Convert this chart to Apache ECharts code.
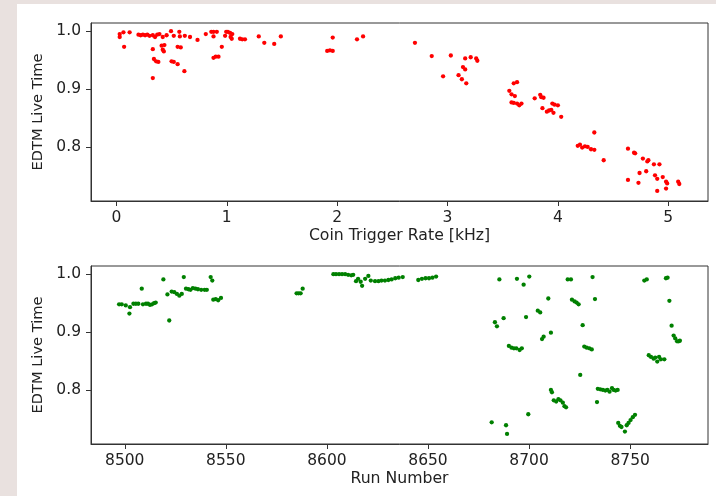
<!DOCTYPE html>
<html>
<head>
<meta charset="utf-8">
<script src="https://cdn.jsdelivr.net/npm/echarts@6/dist/echarts.min.js"></script>
<style>
html,body{margin:0;padding:0;background:#e9e1df;}
#paper{position:absolute;left:17px;top:4px;width:699px;height:492px;background:#ffffff;}
#chart{position:absolute;left:0;top:0;width:716px;height:496px;}
</style>
</head>
<body>
<div id="paper"></div>
<div id="chart"></div>
<script>
// Top panel: EDTM live time vs coincidence trigger rate [kHz]
const rateKHz = [0.03,0.03,0.064,0.07,0.12,0.20,0.22,0.24,0.26,0.28,0.30,0.33,0.35,0.37,0.39,0.33,0.33,0.34,0.36,0.38,
0.41,0.42,0.43,0.435,0.42,0.455,0.495,0.52,0.50,0.52,0.555,0.57,0.575,0.555,0.583,0.616,0.62,0.667,0.735,0.81,
0.86,0.88,0.91,0.88,0.88,0.90,0.925,0.955,0.985,0.995,1.01,1.03,1.05,1.035,1.045,1.12,1.14,1.165,1.29,1.34,
1.43,1.49,1.91,1.935,1.96,1.96,2.18,2.235,2.705,2.857,2.96,3.03,3.10,3.13,3.17,3.14,3.16,3.16,3.21,3.26,
3.27,3.56,3.58,3.61,3.60,3.63,3.58,3.60,3.63,3.65,3.67,3.79,3.84,3.85,3.87,3.86,3.90,3.92,3.94,3.96,
3.95,3.97,4.0,4.03,4.33,4.18,4.20,4.22,4.245,4.27,4.30,4.33,4.415,4.635,4.69,4.70,4.77,4.81,4.82,4.87,
4.92,4.74,4.80,4.88,4.90,4.95,4.98,4.99,4.635,4.73,4.90,4.98,5.09,5.10];
const liveTimeRate = [0.995,0.990,0.998,0.973,0.998,0.994,0.993,0.994,0.993,0.994,0.992,0.993,0.990,0.994,0.995,0.969,0.919,0.952,0.948,0.947,
0.975,0.968,0.965,0.976,0.990,0.993,1.0,0.992,0.948,0.947,0.943,0.999,0.991,0.973,0.972,0.931,0.992,0.990,0.985,0.995,
0.999,0.999,0.999,0.991,0.954,0.956,0.956,0.973,0.992,0.999,0.999,0.997,0.995,0.990,0.987,0.987,0.986,0.986,0.991,0.980,
0.978,0.991,0.966,0.967,0.966,0.989,0.986,0.991,0.980,0.957,0.922,0.958,0.924,0.917,0.910,0.938,0.934,0.953,0.955,0.953,
0.949,0.897,0.891,0.888,0.910,0.912,0.877,0.876,0.875,0.872,0.875,0.884,0.890,0.886,0.885,0.867,0.861,0.863,0.864,0.859,
0.875,0.873,0.872,0.852,0.825,0.802,0.804,0.799,0.801,0.800,0.796,0.795,0.777,0.797,0.790,0.789,0.780,0.775,0.777,0.770,
0.770,0.755,0.758,0.751,0.745,0.748,0.740,0.737,0.743,0.738,0.724,0.728,0.740,0.736];

// Bottom panel: EDTM live time vs run number
const runNumber = [8497.2,8498.5,8500.5,8502.3,8502.6,8504.3,8505.5,8506.7,8508.4,8509,8510.5,8511.5,8512.5,8513.5,8514.5,8515.3,
8519.1,8521.1,8522,8523.2,8524.5,8525.8,8527,8528.2,8529.2,8530.3,8531.5,8532.5,8533.7,8535,8536.2,8537.8,8539.5,8540.6,
8542.5,8543.3,8543.8,8545,8546.2,8547.6,8585,8586,8587,8588,8603.2,8604.5,8606,8607.5,8609,8610.5,8612,8613,
8614.4,8615.4,8616.7,8617.4,8618.9,8620.5,8621.7,8623.8,8625.5,8627,8628.7,8630.4,8632,8633.8,8635.5,8637.5,
8645.2,8647,8648.8,8650.5,8652.2,8654,8685.3,8694,8697.3,8700.1,8719.1,8720.7,8731.4,8757,8758.2,8767.7,8768.5,
8709.5,8721.2,8722.5,8723.5,8724.5,8732.6,8769.4,8704.3,8705.5,8698.5,8687.4,8683.1,8684.1,8726.5,8770.5,
8710.8,8706.4,8707.2,8771.5,8772.3,8773.2,8774,8774.6,8690,8691.3,8692.5,8693.7,8695.3,8696.4,
8727.3,8728.5,8729.8,8731,8759.2,8760.3,8761.6,8762.4,8763.4,8764.3,8765.2,8766.9,8725.3,8710.8,8711.3,
8712.2,8713.4,8714.5,8715.5,8716.7,8717.5,8718.3,8733.6,8734,8735.2,8736.5,8737.7,8738.7,8739.8,8741,8741.8,8742.8,8743.8,
8699.6,8681.5,8688.6,8689.1,8744.1,8744.9,8745.7,8747.4,8748.3,8749.2,8750.2,8751.3,8752.4];
const liveTimeRun = [0.948,0.948,0.946,0.932,0.943,0.949,0.949,0.949,0.975,0.948,0.949,0.949,0.947,0.948,0.950,0.951,
0.991,0.965,0.920,0.970,0.969,0.966,0.963,0.966,0.995,0.975,0.974,0.973,0.976,0.975,0.974,0.973,0.973,0.973,
0.995,0.989,0.956,0.957,0.955,0.959,0.967,0.967,0.967,0.975,1.0,1.0,1.0,1.0,1.0,0.999,0.998,0.999,
0.988,0.992,0.987,0.980,0.992,0.997,0.989,0.988,0.988,0.989,0.989,0.990,0.991,0.993,0.994,0.995,
0.990,0.992,0.993,0.993,0.994,0.996,0.991,0.992,0.982,0.996,0.991,0.991,0.995,0.989,0.991,0.993,0.994,
0.958,0.956,0.953,0.951,0.948,0.957,0.954,0.937,0.934,0.926,0.924,0.917,0.910,0.912,0.911,
0.899,0.888,0.892,0.894,0.889,0.884,0.884,0.885,0.876,0.873,0.872,0.872,0.869,0.872,
0.875,0.873,0.872,0.870,0.860,0.857,0.854,0.856,0.849,0.857,0.853,0.853,0.826,0.800,0.796,
0.782,0.780,0.784,0.782,0.778,0.772,0.770,0.779,0.802,0.801,0.800,0.799,0.800,0.797,0.803,0.800,0.799,0.800,
0.758,0.744,0.739,0.724,0.743,0.738,0.736,0.728,0.739,0.743,0.748,0.753,0.757];

const rateTicks = [0, 1, 2, 3, 4, 5];
const runTicks = [8500, 8550, 8600, 8650, 8700, 8750];
const liveTicks = [0.8, 0.9, 1.0];

const xTitleTop = 'Coin Trigger Rate [kHz]';
const xTitleBottom = 'Run Number';
const yTitle = 'EDTM Live Time';

const FONT = 'DejaVu Sans';
const TXT = '#222222';
const LINE = '#333333';

function zip(a, b) { return a.map((v, i) => [v, b[i]]); }

function xAxisCfg(gridIndex, min, max, ticks, title, fmt) {
  return {
    type: 'value', gridIndex, min, max, position: 'bottom',
    name: title, nameLocation: 'middle', nameGap: 27,
    nameTextStyle: { fontFamily: FONT, fontSize: 15.7, color: TXT },
    axisLine: { show: true, onZero: false, lineStyle: { color: LINE, width: 1 } },
    axisTick: { show: true, inside: false, length: 5, customValues: ticks, lineStyle: { color: LINE, width: 1 } },
    axisLabel: { show: true, margin: 9, customValues: ticks, fontFamily: FONT, fontSize: 15.5, color: TXT, formatter: fmt },
    splitLine: { show: false }
  };
}
function yAxisCfg(gridIndex) {
  return {
    type: 'value', gridIndex, min: 0.7066, max: 1.0142, position: 'left',
    name: yTitle, nameLocation: 'middle', nameGap: 44,
    nameTextStyle: { fontFamily: FONT, fontSize: 14.6, color: TXT },
    axisLine: { show: true, onZero: false, lineStyle: { color: LINE, width: 1 } },
    axisTick: { show: true, inside: false, length: 5, customValues: liveTicks, lineStyle: { color: LINE, width: 1 } },
    axisLabel: { show: true, margin: 10, customValues: liveTicks, fontFamily: FONT, fontSize: 15.5, color: TXT,
      formatter: v => Number(v).toFixed(1) },
    splitLine: { show: false }
  };
}

const chart = echarts.init(document.getElementById('chart'), null, { renderer: 'canvas' });
chart.setOption({
  backgroundColor: 'transparent',
  animation: false,
  grid: [
    { left: 91, top: 23, width: 617, height: 178, show: true, borderColor: LINE, borderWidth: 1, backgroundColor: 'transparent' },
    { left: 91, top: 266, width: 617, height: 178, show: true, borderColor: LINE, borderWidth: 1, backgroundColor: 'transparent' }
  ],
  xAxis: [
    xAxisCfg(0, -0.23, 5.36, rateTicks, xTitleTop, v => String(Math.round(v))),
    xAxisCfg(1, 8483.3, 8788.5, runTicks, xTitleBottom, v => String(Math.round(v)))
  ],
  yAxis: [yAxisCfg(0), yAxisCfg(1)],
  series: [
    { type: 'scatter', xAxisIndex: 0, yAxisIndex: 0, symbol: 'circle', symbolSize: 4.3,
      itemStyle: { color: '#ff0000', opacity: 1 }, data: zip(rateKHz, liveTimeRate) },
    { type: 'scatter', xAxisIndex: 1, yAxisIndex: 1, symbol: 'circle', symbolSize: 4.3,
      itemStyle: { color: '#008000', opacity: 1 }, data: zip(runNumber, liveTimeRun) }
  ]
});
</script>
</body>
</html>
